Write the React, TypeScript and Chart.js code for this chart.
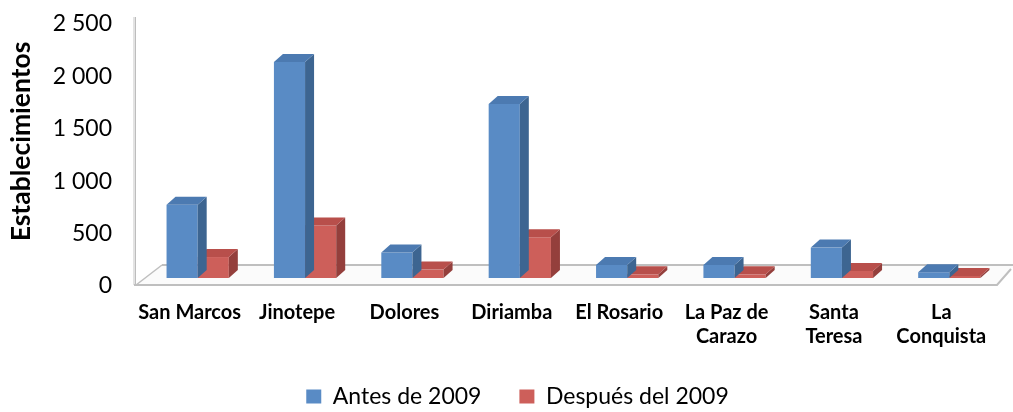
import React, { useEffect, useRef } from 'react';
import { Chart, registerables } from 'chart.js';

Chart.register(...registerables);

const categories: string[][] = [
  ['San Marcos'],
  ['Jinotepe'],
  ['Dolores'],
  ['Diriamba'],
  ['El Rosario'],
  ['La Paz de', 'Carazo'],
  ['Santa', 'Teresa'],
  ['La', 'Conquista'],
];
const seriesNames = ['Antes de 2009', 'Después del 2009'];
const antesDe2009 = [700, 2060, 243, 1660, 125, 125, 290, 55];
const despuesDel2009 = [200, 500, 80, 390, 35, 35, 67, 20];
const yTickValues = [0, 500, 1000, 1500, 2000, 2500];
const yTickLabels = ['0', '500', '1 000', '1 500', '2 000', '2 500'];
const yTitle = 'Establecimientos';

const FRONT = ['#598BC5', '#CD5F5A'];
const TOP = ['#4C7AB1', '#B84F4B'];
const SIDE = ['#3D6591', '#943F3C'];

// oblique projection offsets (decoration only)
const BAR_SHIFT = { dx: 8, dy: -7 };
const BAR_DEPTH = { dx: 9, dy: -8 };
const FLOOR_DEPTH = { dx: 26, dy: -20 };

const threeD = {
  id: 'threeD',
  beforeDatasetsDraw(chart: any) {
    const { ctx, chartArea } = chart;
    const y0 = chart.scales.y.getPixelForValue(0);
    const L = chartArea.left;
    const R = chartArea.right + 2;
    ctx.save();
    // left wall
    ctx.fillStyle = '#e3e3e3';
    ctx.fillRect(L - 3, chartArea.top - 6, 3, y0 - chartArea.top + 6);
    ctx.strokeStyle = '#bdbdbd';
    ctx.lineWidth = 1;
    ctx.beginPath();
    ctx.moveTo(L - 0.5, chartArea.top - 6);
    ctx.lineTo(L - 0.5, y0);
    ctx.stroke();
    // floor
    ctx.fillStyle = '#fbfbfb';
    ctx.beginPath();
    ctx.moveTo(L, y0);
    ctx.lineTo(R, y0);
    ctx.lineTo(R + 14, y0 - 16);
    ctx.lineTo(R + 20, y0 + FLOOR_DEPTH.dy);
    ctx.lineTo(L + FLOOR_DEPTH.dx, y0 + FLOOR_DEPTH.dy);
    ctx.closePath();
    ctx.fill();
    ctx.strokeStyle = '#bfbfbf';
    ctx.lineWidth = 2;
    ctx.beginPath();
    ctx.moveTo(L + FLOOR_DEPTH.dx, y0 + FLOOR_DEPTH.dy);
    ctx.lineTo(R + 20, y0 + FLOOR_DEPTH.dy);
    ctx.stroke();
    ctx.beginPath();
    ctx.moveTo(L - 2, y0);
    ctx.lineTo(R, y0);
    ctx.lineTo(R + 14, y0 - 16);
    ctx.stroke();
    ctx.lineWidth = 1.5;
    ctx.beginPath();
    ctx.moveTo(L, y0);
    ctx.lineTo(L + FLOOR_DEPTH.dx, y0 + FLOOR_DEPTH.dy);
    ctx.stroke();
    ctx.restore();
    ctx.save();
    ctx.translate(BAR_SHIFT.dx, BAR_SHIFT.dy);
  },
  afterDatasetDraw(chart: any, args: any) {
    const { ctx } = chart;
    const i = args.index;
    const meta = args.meta;
    meta.data.forEach((bar: any) => {
      const { x, y, base, width } = bar.getProps(['x', 'y', 'base', 'width'], true);
      const left = x - width / 2;
      const right = x + width / 2;
      ctx.fillStyle = SIDE[i];
      ctx.beginPath();
      ctx.moveTo(right, y);
      ctx.lineTo(right + BAR_DEPTH.dx, y + BAR_DEPTH.dy);
      ctx.lineTo(right + BAR_DEPTH.dx, base + BAR_DEPTH.dy);
      ctx.lineTo(right, base);
      ctx.closePath();
      ctx.fill();
      ctx.fillStyle = TOP[i];
      ctx.beginPath();
      ctx.moveTo(left, y);
      ctx.lineTo(left + BAR_DEPTH.dx, y + BAR_DEPTH.dy);
      ctx.lineTo(right + BAR_DEPTH.dx, y + BAR_DEPTH.dy);
      ctx.lineTo(right, y);
      ctx.closePath();
      ctx.fill();
    });
  },
  afterDatasetsDraw(chart: any) {
    chart.ctx.restore();
  },
  afterDraw(chart: any) {
    const { ctx } = chart;
    ctx.save();
    ctx.translate(21, 141.5);
    ctx.rotate(-Math.PI / 2);
    ctx.fillStyle = '#000';
    ctx.font = 'bold 26.5px Lato';
    ctx.textAlign = 'center';
    ctx.textBaseline = 'middle';
    ctx.fillText(yTitle, 0, 0);
    ctx.restore();
  },
};

export default function App() {
  const ref = useRef<HTMLCanvasElement>(null);
  useEffect(() => {
    if (!ref.current) return;
    const chart = new Chart(ref.current, {
      type: 'bar',
      data: {
        labels: categories,
        datasets: [
          {
            label: seriesNames[0],
            data: antesDe2009,
            backgroundColor: FRONT[0],
            borderWidth: 0,
            categoryPercentage: 0.58,
            barPercentage: 1,
            clip: false as any,
          },
          {
            label: seriesNames[1],
            data: despuesDel2009,
            backgroundColor: FRONT[1],
            borderWidth: 0,
            categoryPercentage: 0.58,
            barPercentage: 1,
            clip: false as any,
          },
        ],
      },
      options: {
        animation: false,
        responsive: false,
        layout: { padding: { left: 40, right: 18, top: 23, bottom: 0 } },
        plugins: {
          tooltip: { enabled: false },
          legend: {
            position: 'bottom',
            labels: {
              boxWidth: 15,
              boxHeight: 14,
              padding: 38,
              color: '#000',
              font: { family: 'Lato', size: 23 },
            },
          },
        },
        scales: {
          x: {
            grid: { display: false, drawTicks: false },
            border: { display: false },
            ticks: {
              color: '#000',
              padding: 16,
              maxRotation: 0,
              autoSkip: false,
              font: { family: 'Lato', size: 20, weight: 'bold', lineHeight: 1.2 },
            },
            afterFit: (s: any) => {
              s.height = 62;
            },
          },
          y: {
            min: 0,
            max: 2500,
            grid: { display: false, drawTicks: false },
            border: { display: false },
            afterBuildTicks: (s: any) => {
              s.ticks = yTickValues.map((v) => ({ value: v }));
            },
            ticks: {
              color: '#000',
              padding: 24,
              labelOffset: 1,
              font: { family: 'Lato', size: 23 },
              callback: (v: any) => yTickLabels[yTickValues.indexOf(Number(v))] ?? '',
            },
            afterFit: (s: any) => {
              s.width = 96;
              s.paddingTop = 0;
              s.paddingBottom = 0;
            },
          },
        },
      },
      plugins: [threeD],
    });
    return () => chart.destroy();
  }, []);
  return (
    <div style={{ position: 'absolute', left: 0, top: 0, width: 1013, height: 412, overflow: 'hidden', background: '#fff' }}>
      <canvas ref={ref} width={1013} height={418} style={{ display: 'block' }} />
    </div>
  );
}
